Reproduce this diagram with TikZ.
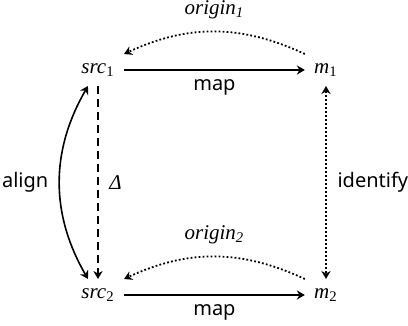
\documentclass[tikz,border=0pt]{standalone}
\usepackage{fontspec}
\setmainfont{Liberation Serif}
\setsansfont{Noto Sans}
\usetikzlibrary{arrows.meta,positioning}
\tikzset{
  obj/.style={font=\fontsize{10.5}{12.6}\selectfont\itshape, inner sep=4.5pt},
  lbl/.style={font=\fontsize{10}{12}\sffamily},
  maparr/.style={-{Stealth[length=4pt, width=4.6pt, inset=1.3pt]}, line width=0.8pt},
  dotarr/.style={-{Stealth[length=4pt, width=4.6pt, inset=1.3pt]}, line width=0.9pt,
                 dash pattern=on 0.9pt off 1.1pt},
  dotboth/.style={{Stealth[length=4pt, width=4.6pt, inset=1.3pt]}-{Stealth[length=4pt, width=4.6pt, inset=1.3pt]},
                  line width=0.9pt, dash pattern=on 0.9pt off 1.1pt},
  dasharr/.style={-{Stealth[length=4pt, width=4.6pt, inset=1.3pt]}, line width=0.8pt,
                  dash pattern=on 4pt off 2.5pt},
  bothArr/.style={{Stealth[length=4pt, width=4.6pt, inset=1.3pt]}-{Stealth[length=4pt, width=4.6pt, inset=1.3pt]},
                  line width=0.8pt},
}

\begin{document}
\begin{tikzpicture}[x=0.5pt, y=-0.5pt, font=\fontsize{10.5}{12.6}\selectfont]
  \useasboundingbox (0,0) rectangle (408,326);
  % the four objects
  \node[obj] (src1) at (98,70) {src\textsubscript{\upshape 1}};
  \node[obj] (m1) at (326,70) {m\textsubscript{\upshape 1}};
  \node[obj] (src2) at (98,295) {src\textsubscript{\upshape 2}};
  \node[obj] (m2) at (326,295) {m\textsubscript{\upshape 2}};
  % horizontal maps
  \draw[maparr] (src1) -- node[lbl, below=1pt] (map1) {map} (m1);
  \draw[maparr] (src2) -- node[lbl, below=1pt] (map2) {map} (m2);
  % origins
  \draw[dotarr] (m1.north west) to[bend right=25]
    node[above=2.5pt] (org1) {\textit{origin\textsubscript{1}}} (src1.north east);
  \draw[dotarr] (m2.north west) to[bend right=25]
    node[above=2.5pt] (org2) {\textit{origin\textsubscript{2}}} (src2.north east);
  % verticals
  \draw[dasharr] (src1) -- node[right=2pt] (dlt) {\textit{Δ}} (src2);
  \draw[bothArr] ([xshift=-5pt]src1.south) to[bend right=30]
    node[lbl, left=2pt] (aln) {align} ([xshift=-5pt]src2.north);
  \draw[dotboth] (m1) -- node[lbl, right=2pt] (idf) {identify} (m2);
\end{tikzpicture}
\end{document}
